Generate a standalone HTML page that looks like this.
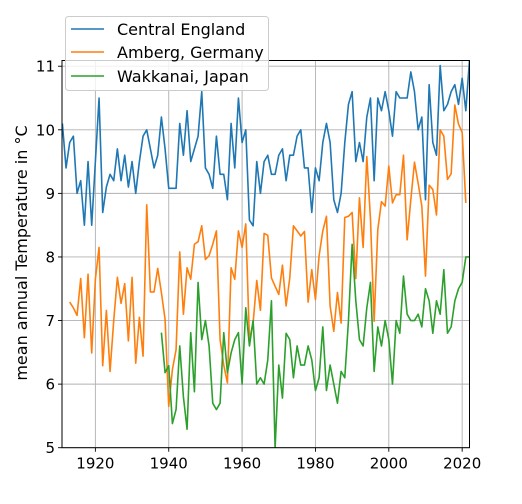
<!DOCTYPE html>
<html><head><meta charset="utf-8"><style>
body{margin:0;background:#fff;}
svg{display:block;font-family:"DejaVu Sans","Liberation Sans",sans-serif;}
</style></head><body>
<svg id="chart" width="522" height="504" viewBox="0 0 522 504" xmlns="http://www.w3.org/2000/svg">
<g id="grid"></g>
<g id="series"></g>
<g id="axes"></g>
<text transform="translate(27,253) rotate(-90)" text-anchor="middle" font-size="16" fill="#000">mean annual Temperature in °C</text>
<g>
<rect x="65.5" y="16.5" width="203" height="74" rx="3" fill="#fff" fill-opacity="0.8" stroke="#ccc"/>
<g><line x1="71" y1="29" x2="104" y2="29" stroke="#1f77b4" stroke-width="1.6"/><text x="117" y="35" font-size="16">Central England</text></g>
<g><line x1="71" y1="52" x2="104" y2="52" stroke="#ff7f0e" stroke-width="1.6"/><text x="117" y="58" font-size="16">Amberg, Germany</text></g>
<g><line x1="71" y1="76" x2="104" y2="76" stroke="#2ca02c" stroke-width="1.6"/><text x="117" y="82" font-size="16">Wakkanai, Japan</text></g>
</g>
</svg>
<script>
const englandStart = 1911;
const englandValues = [10.1,9.4,9.8,9.9,9.0,9.2,8.5,9.5,8.5,9.5,10.5,8.7,9.1,9.3,9.2,9.7,9.2,9.6,9.1,9.5,9.0,9.5,9.9,10.0,9.7,9.4,9.6,10.2,9.7,9.08,9.08,9.08,10.1,9.6,10.3,9.5,9.7,9.9,10.6,9.4,9.3,9.08,9.9,9.3,9.3,8.9,10.1,9.4,10.5,9.8,10.0,8.58,8.49,9.5,9.0,9.5,9.6,9.3,9.3,9.6,9.7,9.2,9.6,9.6,9.9,10.0,9.4,9.4,8.7,9.4,9.2,9.8,10.1,9.8,8.9,8.7,9.0,9.8,10.4,10.6,9.5,9.8,9.5,10.2,10.5,9.2,10.5,10.3,10.6,10.3,9.9,10.6,10.5,10.5,10.5,10.91,10.6,10.0,10.2,8.9,10.71,9.8,9.6,11.01,10.3,10.4,10.6,10.71,10.4,10.81,10.3,11.1];
const ambergStart = 1913;
const ambergValues = [7.29,7.2,7.08,7.66,6.73,7.73,6.49,7.65,8.15,6.29,7.16,6.2,7.0,7.68,7.27,7.58,6.68,7.68,6.33,7.05,6.44,8.82,7.45,7.45,7.82,7.44,7.02,5.65,6.23,6.54,8.08,7.1,7.83,7.65,8.2,8.24,8.49,7.96,8.02,8.2,8.41,6.7,6.3,6.02,7.83,7.65,8.41,8.15,8.52,6.7,6.96,7.63,7.16,8.37,8.34,7.67,7.54,7.41,7.87,7.23,7.67,8.49,8.41,8.33,8.4,7.29,7.8,7.33,8.02,8.41,8.64,7.23,6.83,7.44,6.96,8.62,8.64,8.7,7.66,8.93,8.15,9.58,8.6,6.99,8.43,8.87,8.8,9.43,8.85,8.98,8.98,9.6,8.27,8.9,9.49,9.16,8.8,7.7,9.13,9.06,8.66,10.0,9.9,9.22,9.31,10.39,10.09,9.96,8.85];
const wakkanaiStart = 1938;
const wakkanaiValues = [6.81,6.18,6.29,5.38,5.6,6.6,5.8,5.29,6.81,5.88,7.6,6.7,7.0,6.6,5.7,5.6,5.7,6.81,6.18,6.49,6.7,6.81,6.0,7.2,6.6,7.0,6.0,6.1,6.0,6.38,7.31,4.99,6.3,5.78,6.8,6.7,6.1,6.6,6.3,6.3,6.6,6.38,5.9,6.1,6.9,5.9,6.3,6.0,5.7,6.2,6.1,7.0,8.2,7.31,6.7,6.6,7.2,7.6,6.2,6.9,6.6,7.0,6.7,6.0,7.0,6.8,7.7,7.1,7.0,7.0,7.1,6.9,7.5,7.31,6.8,7.31,7.1,7.8,6.8,6.9,7.31,7.5,7.6,8.0,8.0];
const xTicks = [1920,1940,1960,1980,2000,2020];
const yTicks = [5,6,7,8,9,10,11];

const X0=62, X1=469.5, Y0=60.5, Y1=447.7;
const xMin=1910.9, xMax=2022, yMin=5, yMax=11.09;
function xs(v){return X0+(v-xMin)/(xMax-xMin)*(X1-X0);}
function ys(v){return Y1-(v-yMin)/(yMax-yMin)*(Y1-Y0);}
const NS="http://www.w3.org/2000/svg";
function mk(tag,attrs,parent){const e=document.createElementNS(NS,tag);for(const k in attrs)e.setAttribute(k,attrs[k]);parent.appendChild(e);return e;}
const grid=document.getElementById('grid'), axes=document.getElementById('axes'), series=document.getElementById('series');
xTicks.forEach(t=>{
  const l=mk('line',{x1:xs(t),x2:xs(t),y1:Y0,y2:Y1,stroke:'#b0b0b0','stroke-width':0.9},grid);
  
  
  const tk=mk('line',{x1:xs(t),x2:xs(t),y1:Y1,y2:Y1+4,stroke:'#000','stroke-width':0.9},axes);
  
  
  const tx=mk('text',{x:xs(t),y:Y1+21,'text-anchor':'middle','font-size':15},axes);
  tx.textContent=t;
  
  
});
yTicks.forEach(t=>{
  const l=mk('line',{x1:X0,x2:X1,y1:ys(t),y2:ys(t),stroke:'#b0b0b0','stroke-width':0.9},grid);
  
  
  const tk=mk('line',{x1:X0-4,x2:X0,y1:ys(t),y2:ys(t),stroke:'#000','stroke-width':0.9},axes);
  
  
  const tx=mk('text',{x:X0-7,y:ys(t)+5.5,'text-anchor':'end','font-size':15},axes);
  tx.textContent=t;
  
  
});
const fr=mk('rect',{x:X0,y:Y0,width:X1-X0,height:Y1-Y0,fill:'none',stroke:'#000','stroke-width':1},axes);


const cp=mk('clipPath',{id:'clip'},series);
mk('rect',{x:X0,y:Y0,width:X1-X0,height:Y1-Y0},cp);
function line(start,vals,color,name){
  const pts=vals.map((v,i)=>xs(start+i).toFixed(2)+','+ys(v).toFixed(2)).join(' ');
  const p=mk('polyline',{points:pts,fill:'none',stroke:color,'stroke-width':1.6,'stroke-linejoin':'round','clip-path':'url(#clip)'},series);
  
  
}
line(englandStart,englandValues,'#1f77b4','central-england-line');
line(ambergStart,ambergValues,'#ff7f0e','amberg-line');
line(wakkanaiStart,wakkanaiValues,'#2ca02c','wakkanai-line');
</script>
</body></html>
